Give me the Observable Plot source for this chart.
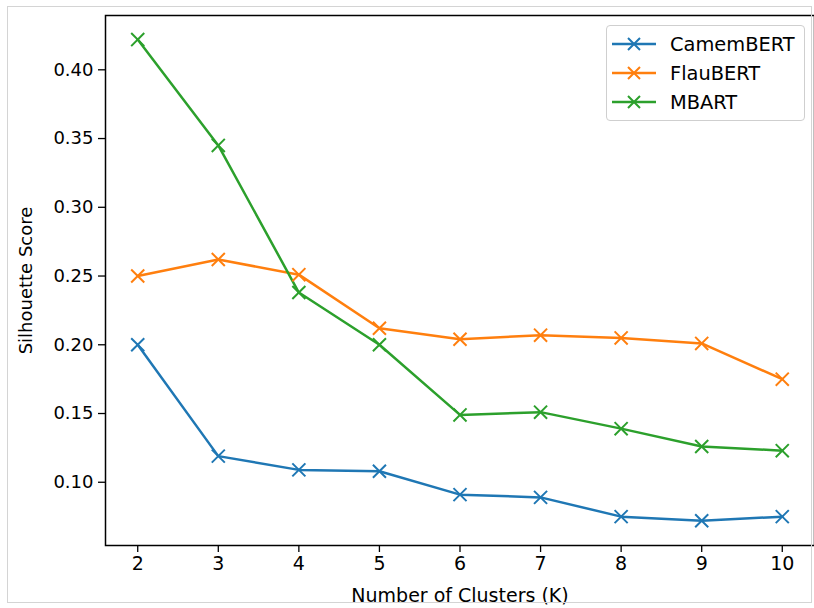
<!DOCTYPE html>
<html><head><meta charset="utf-8">
<script src="https://cdn.jsdelivr.net/npm/d3@7"></script>
<script src="https://cdn.jsdelivr.net/npm/@observablehq/plot@0.6"></script>
<style>
html,body{margin:0;padding:0;background:#fff;}
body{font-family:"DejaVu Sans",sans-serif;}
#wrap{position:relative;width:814px;height:608px;overflow:hidden;}
#outer{position:absolute;left:7px;top:6px;width:805px;height:597px;border:1px solid #d4d4d4;box-sizing:border-box;pointer-events:none;}
#legend{position:absolute;left:606px;top:25px;width:199px;height:96px;border:1px solid #cfcfcf;border-radius:4px;background:rgba(255,255,255,0.85);box-sizing:border-box;font-size:19.4px;color:#000;}
.row{position:absolute;left:0;height:28px;display:flex;align-items:center;}
.row svg{margin-left:5px;}
.row span{margin-left:14px;white-space:nowrap;}
</style>
</head><body>
<div id="wrap"><div id="chart"></div><div id="legend"></div><div id="outer"></div></div>
<script>
const K = [2, 3, 4, 5, 6, 7, 8, 9, 10];
const camembert = [0.200, 0.119, 0.109, 0.108, 0.091, 0.089, 0.075, 0.072, 0.075];
const flaubert  = [0.250, 0.262, 0.251, 0.212, 0.204, 0.207, 0.205, 0.201, 0.175];
const mbart     = [0.422, 0.345, 0.238, 0.200, 0.149, 0.151, 0.139, 0.126, 0.123];
const seriesNames = ["CamemBERT", "FlauBERT", "MBART"];
const seriesColors = ["#1f77b4", "#ff7f0e", "#2ca02c"];
const yTicks = [0.10, 0.15, 0.20, 0.25, 0.30, 0.35, 0.40];
const xLabel = "Number of Clusters (K)";
const yLabel = "Silhouette Score";

const seriesValues = [camembert, flaubert, mbart];
const data = seriesNames.flatMap((s, i) => K.map((k, j) => ({k, v: seriesValues[i][j], s})));

const chart = Plot.plot({
  width: 814, height: 608,
  marginLeft: 105, marginRight: 0, marginTop: 15, marginBottom: 63,
  style: {fontFamily: "DejaVu Sans, sans-serif", fontSize: "19px", color: "#000", background: "#fff"},
  x: {domain: [1.6, 10.4]},
  y: {domain: [0.054, 0.4395]},
  color: {domain: seriesNames, range: seriesColors},
  marks: [
    Plot.line(data, {x: "k", y: "v", z: "s", stroke: "s", strokeWidth: 2.5}),
    Plot.dot(data, {x: "k", y: "v", stroke: "s", symbol: "times", r: 6, strokeWidth: 2}),
    Plot.frame({stroke: "#000", strokeWidth: 1.5}),
    Plot.axisX({ticks: K, tickSize: 7, tickPadding: 4, tickFormat: d => String(d), label: xLabel, labelAnchor: "center", labelArrow: "none", labelOffset: 56, strokeWidth: 1.3}),
    Plot.axisY({ticks: yTicks, tickSize: 7, tickPadding: 5, tickFormat: ".2f", label: yLabel, labelAnchor: "center", labelArrow: "none", labelOffset: 86, fontSize: 18, strokeWidth: 1.3})
  ]
});
document.getElementById("chart").appendChild(chart);

const legend = document.getElementById("legend");
seriesNames.forEach((name, i) => {
  const row = document.createElement("div");
  row.className = "row";
  row.style.top = (4 + i * 29) + "px";
  row.innerHTML = `<svg width="44" height="20"><line x1="0" y1="10" x2="44" y2="10" stroke="${seriesColors[i]}" stroke-width="2.5"/><path d="M16,4L28,16M28,4L16,16" stroke="${seriesColors[i]}" stroke-width="2"/></svg><span>${name}</span>`;
  legend.appendChild(row);
});
</script>
</body></html>
